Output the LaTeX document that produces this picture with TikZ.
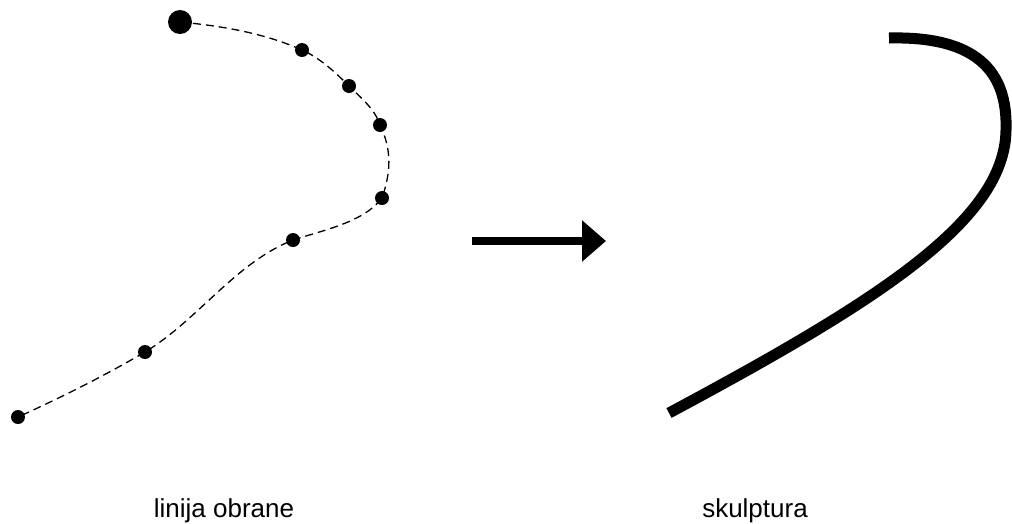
\documentclass[tikz,border=0pt]{standalone}
\usepackage{fontspec}
\setmainfont{Liberation Sans}
\usetikzlibrary{arrows.meta}
\begin{document}
\begin{tikzpicture}[x=1pt,y=-1pt,
  dot/.style={circle,fill=black,inner sep=0pt,minimum size=14pt},
  bigdot/.style={circle,fill=black,inner sep=0pt,minimum size=24pt},
  route/.style={dashed,dash pattern=on 8pt off 5pt,line width=1.3pt},
  sculpt/.style={line width=11pt},
  label/.style={font=\fontsize{26}{30}\selectfont,anchor=base}]
\useasboundingbox (0,0) rectangle (1012,523);
% defence line points
\node[bigdot] (d0) at (180,22) {};
\node[dot] (d1) at (302,50) {};
\node[dot] (d2) at (349,86) {};
\node[dot] (d3) at (380,125) {};
\node[dot] (d4) at (382,198) {};
\node[dot] (d5) at (293,240) {};
\node[dot] (d6) at (145,352) {};
\node[dot] (d7) at (18,417) {};
\draw[route] (d0.center) .. controls (222,26) and (264,33) .. (d1.center)
  .. controls (320,58) and (335,72) .. (d2.center)
  .. controls (361,98) and (375,109) .. (d3.center)
  .. controls (392,150) and (391,172) .. (d4.center)
  .. controls (364,222) and (324,230) .. (d5.center)
  .. controls (235,263) and (198,320) .. (d6.center)
  .. controls (104,376) and (62,397) .. (d7.center);
% arrow
\coordinate (a0) at (472,241);
\coordinate (a1) at (606,241);
\draw[line width=8pt,-{Triangle[length=24pt,width=40pt]}] (a0) -- (a1);
% sculpture
\coordinate (s0) at (889,38);
\coordinate (s1) at (1006,130);
\coordinate (s2) at (669,413);
\draw[sculpt] (s0) .. controls (975,36) and (1008,70) .. (s1)
  .. controls (1005,220) and (880,300) .. (s2);
% labels
\node[label] (l1) at (224,517) {linija obrane};
\node[label] (l2) at (755,517) {skulptura};
\end{tikzpicture}
\end{document}
